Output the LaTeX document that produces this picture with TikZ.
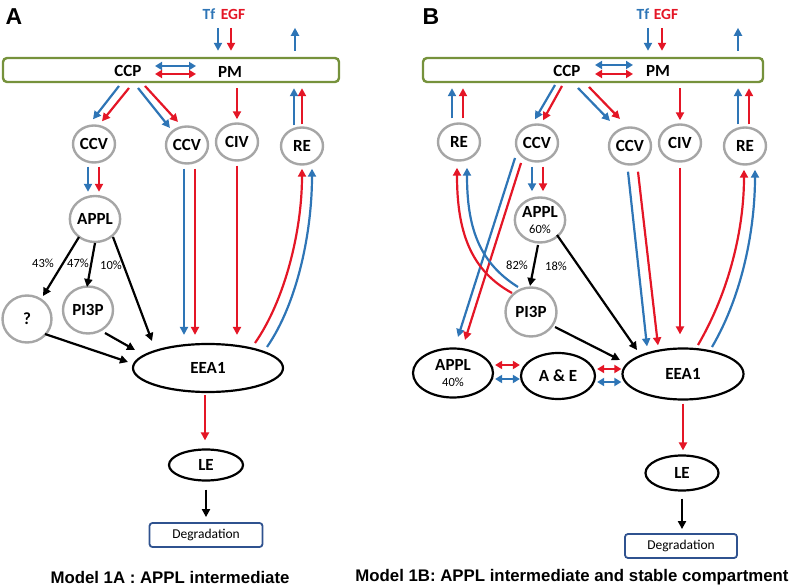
\documentclass[tikz,border=0pt]{standalone}
\usepackage{fontspec}
\setmainfont{Carlito}
\newfontfamily\capfont{Liberation Sans}
\usetikzlibrary{arrows.meta,shapes.geometric,calc}
\definecolor{tblue}{RGB}{46,117,182}
\definecolor{ered}{RGB}{228,22,38}
\definecolor{cgray}{RGB}{166,166,166}
\definecolor{pmgreen}{RGB}{118,146,60}
\definecolor{degblue}{RGB}{47,82,143}
\begin{document}
\begin{tikzpicture}[x=1pt,y=-1pt,
  atip/.style={-{Triangle[length=8pt,width=8pt]}},
  dtip/.style={{Triangle[length=7pt,width=8pt]}-{Triangle[length=7pt,width=8pt]}},
  bl/.style={draw=tblue,line width=2.2pt},
  rl/.style={draw=ered,line width=2.2pt},
  kl/.style={draw=black,line width=2.2pt},
  gc/.style={ellipse,draw=cgray,line width=2.4pt,inner sep=0pt,minimum width=42pt,minimum height=37pt,font=\fontsize{17}{18}\selectfont\bfseries},
  bel/.style={ellipse,draw=black,line width=2.2pt,inner sep=0pt,font=\fontsize{17}{18}\selectfont\bfseries},
  pmbar/.style={draw=pmgreen,line width=2.4pt,rounded corners=4pt,minimum height=24pt,inner sep=0pt},
  lbl/.style={font=\fontsize{17}{18}\selectfont\bfseries,inner sep=1pt},
  tfl/.style={font=\fontsize{15.5}{16}\selectfont\bfseries,inner sep=1pt,text=tblue},
  egfl/.style={font=\fontsize{15.5}{16}\selectfont\bfseries,inner sep=1pt,text=ered},
  pct/.style={font=\fontsize{12.5}{13}\selectfont,inner sep=1pt},
  degbox/.style={draw=degblue,line width=1.8pt,rounded corners=3pt,minimum width=113pt,minimum height=24pt,inner sep=0pt,font=\fontsize{13.5}{14}\selectfont},
  panel/.style={font=\capfont\fontsize{23}{24}\selectfont\bfseries,inner sep=0pt},
  caption/.style={font=\capfont\fontsize{16.8}{18}\selectfont\bfseries,inner sep=0pt},
]
\useasboundingbox (0,0) rectangle (790,585);

% ================= Panel A =================
\node[panel] (labA) at (14,17) {A};
\node[pmbar,minimum width=336pt] (pmA) at (171,70) {};
\node[lbl] (ccpA) at (128,71) {CCP};
\node[lbl] (pmtA) at (230,72) {PM};
\node[tfl] (tfA) at (209,14) {Tf};
\node[egfl] (egfA) at (233,14) {EGF};
\node[gc] (ccv1A) at (94,144) {CCV};
\node[gc] (ccv2A) at (187,145) {CCV};
\node[gc] (civA) at (237,142) {CIV};
\node[gc] (reA) at (302,146) {RE};
\node[gc,minimum width=49pt,minimum height=46pt] (applA) at (95,219) {APPL};
\node[gc,minimum width=49pt,minimum height=47pt] (qA) at (27,319) {?};
\node[gc,minimum width=50pt,minimum height=47pt] (pi3pA) at (88,310) {PI3P};
\node[bel,minimum width=150pt,minimum height=48pt] (eea1A) at (208,368) {EEA1};
\node[bel,minimum width=74pt,minimum height=31pt] (leA) at (206,465) {LE};
\node[degbox] (degA) at (206,535) {Degradation};
\node[caption] (capA) at (170,577) {Model 1A : APPL intermediate};
\node[pct] (p43) at (43,263) {43\%};
\node[pct] (p47) at (78,263) {47\%};
\node[pct] (p10) at (111,265) {10\%};

\draw[bl,atip] ($(tfA)+(9,14)$) -- ($(pmA.north)+(47,-6)$);
\draw[rl,atip] ($(egfA)+(-2,14)$) -- ($(pmA.north)+(60,-6)$);
\draw[bl,atip] ($(pmA.north)+(124,-6)$) -- ($(pmA.north)+(124,-29)$);
\draw[bl,dtip] ($(ccpA)+(27,-5)$) -- ($(ccpA)+(68,-5)$);
\draw[rl,dtip] ($(ccpA)+(27,3)$) -- ($(ccpA)+(68,3)$);
\draw[bl,atip] ($(ccpA)+(-9,15)$) -- ($(ccv1A.north)+(-1,-5)$);
\draw[rl,atip] ($(ccpA)+(1,17)$) -- ($(ccv1A.north)+(8,-3)$);
\draw[bl,atip] ($(ccpA)+(10,17)$) -- ($(ccv2A)+(-17,-17)$);
\draw[rl,atip] ($(ccpA)+(17,15)$) -- ($(ccv2A)+(-9,-23)$);
\draw[rl,atip] ($(pmA.south)+(66,5)$) -- ($(civA.north)+(0,-3)$);
\draw[bl,atip] ($(reA.north)+(-8,-1)$) -- ($(pmA.south)+(123,5)$);
\draw[rl,atip] ($(reA.north)+(0,-2)$) -- ($(pmA.south)+(131,5)$);
\draw[bl,atip] ($(ccv1A.south)+(-6,3)$) -- ($(applA.north)+(-7,-3)$);
\draw[rl,atip] ($(ccv1A.south)+(5,3)$) -- ($(applA.north)+(4,-3)$);
\draw[kl,atip] ($(applA)+(-16,18)$) -- ($(qA)+(16,-23)$);
\draw[kl,atip] ($(applA)+(0,24)$) -- ($(pi3pA)+(-1,-23)$);
\draw[kl,atip] ($(applA)+(18,18)$) -- ($(eea1A)+(-56,-27)$);
\draw[kl,atip] ($(qA)+(18,15)$) -- ($(eea1A)+(-80,-6)$);
\draw[kl,atip] ($(pi3pA)+(17,23)$) -- ($(eea1A)+(-73,-18)$);
\draw[bl,atip] ($(ccv2A.south)+(-3,4)$) -- ($(eea1A.north)+(-24,-8)$);
\draw[rl,atip] ($(ccv2A.south)+(8,4)$) -- ($(eea1A.north)+(-13,-8)$);
\draw[rl,atip] ($(civA.south)+(0,4)$) -- ($(eea1A.north)+(29,-8)$);
\draw[rl,atip] ($(eea1A)+(47,-25)$) .. controls ($(eea1A)+(77,-68)$) and ($(reA.south)+(0,65)$) .. ($(reA.south)+(0,3)$);
\draw[bl,atip] ($(eea1A)+(59,-21)$) .. controls ($(eea1A)+(90,-66)$) and ($(reA.south)+(10,65)$) .. ($(reA.south)+(10,3)$);
\draw[rl,atip] ($(eea1A.south)+(-3,2)$) -- ($(leA.north)+(-1,-8)$);
\draw[kl,atip] ($(leA.south)+(0,8)$) -- ($(degA.north)+(0,-5)$);

% ================= Panel B =================
\node[panel] (labB) at (431,17) {B};
\node[pmbar,minimum width=340pt] (pmB) at (593,70) {};
\node[lbl] (ccpB) at (567,71) {CCP};
\node[lbl] (pmtB) at (658,71) {PM};
\node[tfl] (tfB) at (643,14) {Tf};
\node[egfl] (egfB) at (666,14) {EGF};
\node[gc] (reLB) at (459,142) {RE};
\node[gc] (ccvLB) at (537,143) {CCV};
\node[gc] (ccv2B) at (630,146) {CCV};
\node[gc] (civB) at (680,143) {CIV};
\node[gc] (reRB) at (745,146) {RE};
\node[gc,minimum width=50pt,minimum height=45pt,align=center] (applB) at (540,220) {APPL\\[-2pt]{\fontsize{12.5}{13}\selectfont\mdseries 60\%}};
\node[gc,minimum width=51pt,minimum height=49pt] (pi3pB) at (531,312) {PI3P};
\node[bel,minimum width=80pt,minimum height=49pt,align=center] (appl2B) at (453,373) {APPL\\[-2pt]{\fontsize{12.5}{13}\selectfont\mdseries 40\%}};
\node[bel,minimum width=74pt,minimum height=46pt] (aeB) at (558,376) {A \& E};
\node[bel,minimum width=121pt,minimum height=51pt] (eea1B) at (683,374) {EEA1};
\node[bel,minimum width=73pt,minimum height=35pt] (leB) at (682,473) {LE};
\node[degbox,minimum width=112pt] (degB) at (681,546) {Degradation};
\node[caption] (capB) at (572,577) {Model 1B: APPL intermediate and stable compartment};
\node[pct] (p82) at (517,265) {82\%};
\node[pct] (p18) at (556,266) {18\%};

\draw[bl,atip] ($(tfB)+(5,14)$) -- ($(pmB.north)+(55,-6)$);
\draw[rl,atip] ($(egfB)+(-4,14)$) -- ($(pmB.north)+(69,-6)$);
\draw[bl,atip] ($(pmB.north)+(145,-6)$) -- ($(pmB.north)+(145,-29)$);
\draw[bl,dtip] ($(ccpB)+(28,-6)$) -- ($(ccpB)+(66,-6)$);
\draw[rl,dtip] ($(ccpB)+(28,3)$) -- ($(ccpB)+(66,3)$);
\draw[bl,atip] ($(reLB.north)+(-7,-4)$) -- ($(pmB.south)+(-141,5)$);
\draw[rl,atip] ($(reLB.north)+(4,-4)$) -- ($(pmB.south)+(-130,5)$);
\draw[bl,atip] ($(ccpB)+(-12,14)$) -- ($(ccvLB.north)+(-2,-4)$);
\draw[rl,atip] ($(ccpB)+(-5,15)$) -- ($(ccvLB.north)+(6,-3)$);
\draw[bl,atip] ($(ccpB)+(11,17)$) -- ($(ccv2B)+(-20,-25)$);
\draw[rl,atip] ($(ccpB)+(22,16)$) -- ($(ccv2B)+(-10,-27)$);
\draw[rl,atip] ($(pmB.south)+(87,5)$) -- ($(civB.north)+(0,-3)$);
\draw[bl,atip] ($(reRB.north)+(-7,-2)$) -- ($(pmB.south)+(145,5)$);
\draw[rl,atip] ($(reRB.north)+(4,-2)$) -- ($(pmB.south)+(156,5)$);
\draw[bl,atip] ($(ccvLB.south)+(-5,4)$) -- ($(applB.north)+(-8,-5)$);
\draw[rl,atip] ($(ccvLB.south)+(6,4)$) -- ($(applB.north)+(3,-5)$);
\draw[bl,atip] ($(ccvLB)+(-22,15)$) -- ($(appl2B)+(5,-36)$);
\draw[rl,atip] ($(ccvLB)+(-16,20)$) -- ($(appl2B)+(12,-33)$);
\draw[rl,atip] ($(pi3pB)+(-19,-19)$) .. controls ($(pi3pB)+(-61,-42)$) and ($(reLB.south)+(-2,69)$) .. ($(reLB.south)+(-2,6)$);
\draw[bl,atip] ($(pi3pB)+(-13,-25)$) .. controls ($(pi3pB)+(-53,-50)$) and ($(reLB.south)+(8,64)$) .. ($(reLB.south)+(8,6)$);
\draw[kl,atip] ($(applB)+(-2,25)$) -- ($(pi3pB)+(-1,-26)$);
\draw[kl,atip] ($(applB)+(17,15)$) -- ($(eea1B)+(-46,-24)$);
\draw[kl,atip] ($(pi3pB)+(24,15)$) -- ($(eea1B)+(-63,-14)$);
\draw[bl,atip] ($(ccv2B.south)+(-2,6)$) -- ($(eea1B.north)+(-36,-1)$);
\draw[rl,atip] ($(ccv2B.south)+(8,6)$) -- ($(eea1B.north)+(-25,-2)$);
\draw[rl,atip] ($(civB.south)+(0,5)$) -- ($(eea1B.north)+(-3,-13)$);
\draw[rl,atip] ($(eea1B)+(15,-29)$) .. controls ($(eea1B)+(47,-84)$) and ($(reRB.south)+(-1,62)$) .. ($(reRB.south)+(-1,4)$);
\draw[bl,atip] ($(eea1B)+(29,-27)$) .. controls ($(eea1B)+(60,-80)$) and ($(reRB.south)+(10,62)$) .. ($(reRB.south)+(10,4)$);
\draw[rl,dtip] ($(appl2B.east)+(1,-8)$) -- ($(aeB.west)+(0,-11)$);
\draw[bl,dtip] ($(appl2B.east)+(1,6)$) -- ($(aeB.west)+(0,3)$);
\draw[rl,dtip] ($(aeB.east)+(1,-7)$) -- ($(eea1B.west)+(0,-5)$);
\draw[bl,dtip] ($(aeB.east)+(1,6)$) -- ($(eea1B.west)+(0,8)$);
\draw[rl,atip] ($(eea1B.south)+(0,3)$) -- ($(leB.north)+(1,-4)$);
\draw[kl,atip] ($(leB.south)+(0,7)$) -- ($(degB.north)+(1,-4)$);
\end{tikzpicture}
\end{document}
